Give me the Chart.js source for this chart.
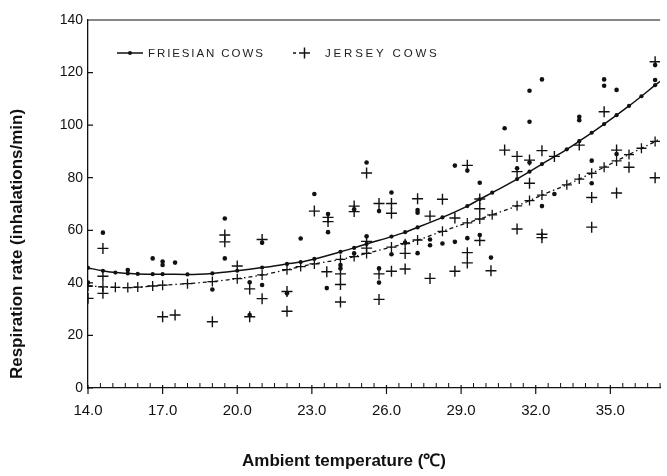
<!DOCTYPE html>
<html>
<head>
<meta charset="utf-8">
<script src="https://cdn.jsdelivr.net/npm/chart.js@4.4.1/dist/chart.umd.min.js"></script>
<style>
html,body{margin:0;padding:0;background:#fff;}
#wrap{width:667px;height:476px;}
</style>
</head>
<body>
<div id="wrap"><canvas id="c" width="667" height="476"></canvas></div>
<script>
// ---- data ----
const friesianTemp = [14.0,14.6,15.6,16.6,17.0,17.0,17.5,19.0,19.5,19.5,20.5,20.5,21.0,21.0,22.0,22.55,23.1,23.65,23.65,23.6,24.15,24.15,24.7,24.7,25.2,25.2,25.7,25.7,25.7,26.2,26.2,26.75,27.25,27.25,27.25,27.75,27.75,28.25,28.75,28.75,29.25,29.25,29.75,29.75,30.2,30.75,31.25,31.75,31.75,31.75,32.25,32.25,32.75,33.75,33.75,34.25,34.25,34.75,34.75,35.25,35.25,36.8,36.8];
const friesianRate = [40.1,59.1,44.9,49.3,48.1,46.8,47.7,37.5,64.5,49.3,40.2,27.8,55.3,39.2,36.0,56.9,73.8,66.2,59.3,38.0,46.8,45.5,68.0,51.2,85.8,57.7,67.3,45.5,40.1,74.4,50.9,55.3,67.7,66.7,51.3,56.5,54.3,55.0,84.6,55.6,82.7,57.0,78.1,58.2,49.6,98.8,83.6,113.1,101.3,85.8,117.4,69.2,73.8,103.2,101.9,86.5,77.9,117.4,115.0,113.4,89.0,122.9,117.2];
const jerseyTemp = [14.0,14.6,14.6,14.6,17.0,17.5,19.0,19.5,19.5,20.0,20.5,20.5,21.0,21.0,22.0,22.0,23.1,23.65,23.65,23.6,24.15,24.15,24.15,24.7,24.7,25.2,25.2,25.2,25.7,25.7,25.7,26.2,26.2,26.2,26.75,26.75,27.25,27.75,27.75,28.25,28.75,28.75,29.25,29.25,29.25,29.75,29.75,29.75,30.2,30.75,31.25,31.25,31.25,31.75,31.75,32.25,32.25,32.25,32.75,33.75,34.25,34.25,34.75,35.25,35.25,35.75,36.8,36.8];
const jerseyRate = [34.1,53.1,42.5,36.0,27.1,27.8,25.2,58.2,55.6,46.4,37.7,27.1,56.5,34.0,36.7,29.2,67.3,64.9,63.3,44.2,43.4,39.4,32.7,69.2,67.1,81.8,55.8,53.2,70.2,43.4,33.7,70.2,66.5,44.4,51.2,45.3,72.0,65.4,41.7,71.8,64.7,44.4,84.7,51.5,47.6,71.9,68.2,56.1,44.6,90.5,88.1,82.3,60.5,86.7,77.9,90.3,58.5,57.2,88.1,92.4,72.5,61.2,105.1,90.5,74.2,84.0,124.1,80.0];
const fitTemp = [14.0,14.6,15.1,15.6,16.0,16.6,17.0,18.0,19.0,20.0,21.0,22.0,22.55,23.1,24.15,24.7,25.2,26.2,26.75,27.25,28.25,29.25,29.75,30.25,31.25,31.75,32.25,33.25,33.75,34.25,34.75,35.25,35.75,36.25,36.8,37.0];
const friesianFit = [45.7,44.6,43.9,43.6,43.4,43.3,43.3,43.2,43.6,44.6,45.8,47.2,47.9,49.1,51.8,53.3,54.8,57.6,59.3,61.1,64.9,69.2,71.8,74.3,79.5,82.3,85.2,90.8,93.9,97.1,100.4,103.8,107.3,111.0,115.2,116.7];
const jerseyFit = [38.8,38.5,38.3,38.2,38.4,38.8,39.1,39.7,40.5,41.6,43.0,45.0,46.2,47.2,48.9,50.0,51.2,53.6,54.9,56.3,59.6,62.8,64.3,65.9,69.3,71.3,73.4,77.3,79.5,81.7,84.0,86.4,88.8,91.2,93.8,94.9];
const xTickValues = [14,17,20,23,26,29,32,35];
const yTickValues = [0,20,40,60,80,100,120,140];
const seriesNames = ['FRIESIAN COWS','JERSEY COWS'];
const xTitle = 'Ambient temperature (\u2103)';
const yTitle = 'Respiration rate (inhalations/min)';

const INK = '#111';
const FONT = '"Liberation Sans", Arial, sans-serif';
const pts = (xs, ys) => xs.map((v, i) => ({x: v, y: ys[i]}));
const lastIdx = fitTemp.length - 1;

const decor = {
  id: 'decor',
  afterDraw(chart) {
    const {ctx, chartArea: a, scales: {x, y}} = chart;
    ctx.save();
    ctx.strokeStyle = INK;
    ctx.lineWidth = 1.2;
    ctx.beginPath();
    // top frame line
    ctx.moveTo(a.left, a.top); ctx.lineTo(a.right, a.top);
    // y ticks (inward)
    yTickValues.forEach(v => { const p = y.getPixelForValue(v); ctx.moveTo(a.left, p); ctx.lineTo(a.left + 5, p); });
    // x major ticks
    xTickValues.forEach(v => { const p = x.getPixelForValue(v); ctx.moveTo(p, a.bottom - 3); ctx.lineTo(p, a.bottom + 6); });
    ctx.stroke();
    // x minor ticks every 0.5 (inward)
    ctx.lineWidth = 1;
    ctx.beginPath();
    for (let k = 1; 14 + k * 0.5 <= x.max; k++) {
      if (k % 6 === 0) continue;
      const p = x.getPixelForValue(14 + k * 0.5);
      ctx.moveTo(p, a.bottom); ctx.lineTo(p, a.bottom - 5);
    }
    ctx.stroke();

    // axis titles
    ctx.fillStyle = INK;
    ctx.font = 'bold 17px ' + FONT;
    ctx.textAlign = 'center';
    ctx.textBaseline = 'middle';
    ctx.fillText(xTitle, 344, 461);
    ctx.save();
    ctx.translate(17, 244);
    ctx.rotate(-Math.PI / 2);
    ctx.fillText(yTitle, 0, 0);
    ctx.restore();

    // legend
    const ly = 53;
    ctx.strokeStyle = INK;
    ctx.lineWidth = 1.5;
    ctx.beginPath(); ctx.moveTo(117, ly); ctx.lineTo(143, ly); ctx.stroke();
    ctx.beginPath(); ctx.arc(130, ly, 2, 0, Math.PI * 2); ctx.fill();
    ctx.beginPath(); ctx.moveTo(293, ly); ctx.lineTo(296, ly); ctx.moveTo(299, ly); ctx.lineTo(310, ly); ctx.moveTo(304.5, ly - 5.5); ctx.lineTo(304.5, ly + 5.5); ctx.stroke();
    ctx.font = '11.5px ' + FONT;
    ctx.textAlign = 'left';
    ctx.fillStyle = '#222';
    try { ctx.letterSpacing = '1.9px'; } catch (e) {}
    ctx.fillText(seriesNames[0], 148, ly + 1);
    try { ctx.letterSpacing = '2.8px'; } catch (e) {}
    ctx.fillText(seriesNames[1], 325, ly + 1);
    ctx.restore();
  }
};

new Chart(document.getElementById('c'), {
  type: 'scatter',
  data: {
    datasets: [
      {
        label: seriesNames[0] + ' fit', type: 'line', data: pts(fitTemp, friesianFit),
        borderColor: INK, borderWidth: 1.5, cubicInterpolationMode: 'monotone',
        pointStyle: 'circle', pointRadius: c => c.dataIndex === lastIdx ? 0 : 2.1,
        pointBackgroundColor: INK, pointBorderWidth: 0, fill: false
      },
      {
        label: seriesNames[1] + ' fit', type: 'line', data: pts(fitTemp, jerseyFit),
        borderColor: INK, borderWidth: 1.3, borderDash: [4, 3, 1.5, 3], cubicInterpolationMode: 'monotone',
        pointStyle: 'cross', pointRadius: c => c.dataIndex === lastIdx ? 0 : 5,
        pointBorderColor: INK, pointBorderWidth: 1.3, fill: false
      },
      {
        label: seriesNames[0], data: pts(friesianTemp, friesianRate),
        pointStyle: 'circle', pointRadius: 2.3, pointBackgroundColor: INK, pointBorderWidth: 0
      },
      {
        label: seriesNames[1], data: pts(jerseyTemp, jerseyRate),
        pointStyle: 'cross', pointRadius: 5.5, pointBorderColor: INK, pointBorderWidth: 1.4
      }
    ]
  },
  options: {
    responsive: false,
    animation: false,
    layout: {padding: {top: 20, right: 0, left: 0, bottom: 0}},
    plugins: {legend: {display: false}, tooltip: {enabled: false}},
    scales: {
      x: {
        type: 'linear', min: 14, max: 37,
        afterFit: s => { s.height = 88; },
        afterBuildTicks: s => { s.ticks = xTickValues.map(v => ({value: v})); },
        ticks: {
          autoSkip: false, maxRotation: 0, padding: 14, color: INK,
          font: {family: FONT, size: 15},
          callback: v => v.toFixed(1)
        },
        grid: {drawOnChartArea: false, drawTicks: false},
        border: {display: true, color: INK, width: 1.3}
      },
      y: {
        type: 'linear', min: 0, max: 140,
        afterFit: s => { s.width = 88; },
        afterBuildTicks: s => { s.ticks = yTickValues.map(v => ({value: v})); },
        ticks: {
          padding: 5, color: INK,
          font: {family: FONT, size: 14}
        },
        grid: {drawOnChartArea: false, drawTicks: false},
        border: {display: true, color: INK, width: 1.3}
      }
    }
  },
  plugins: [decor]
});
</script>
</body>
</html>
